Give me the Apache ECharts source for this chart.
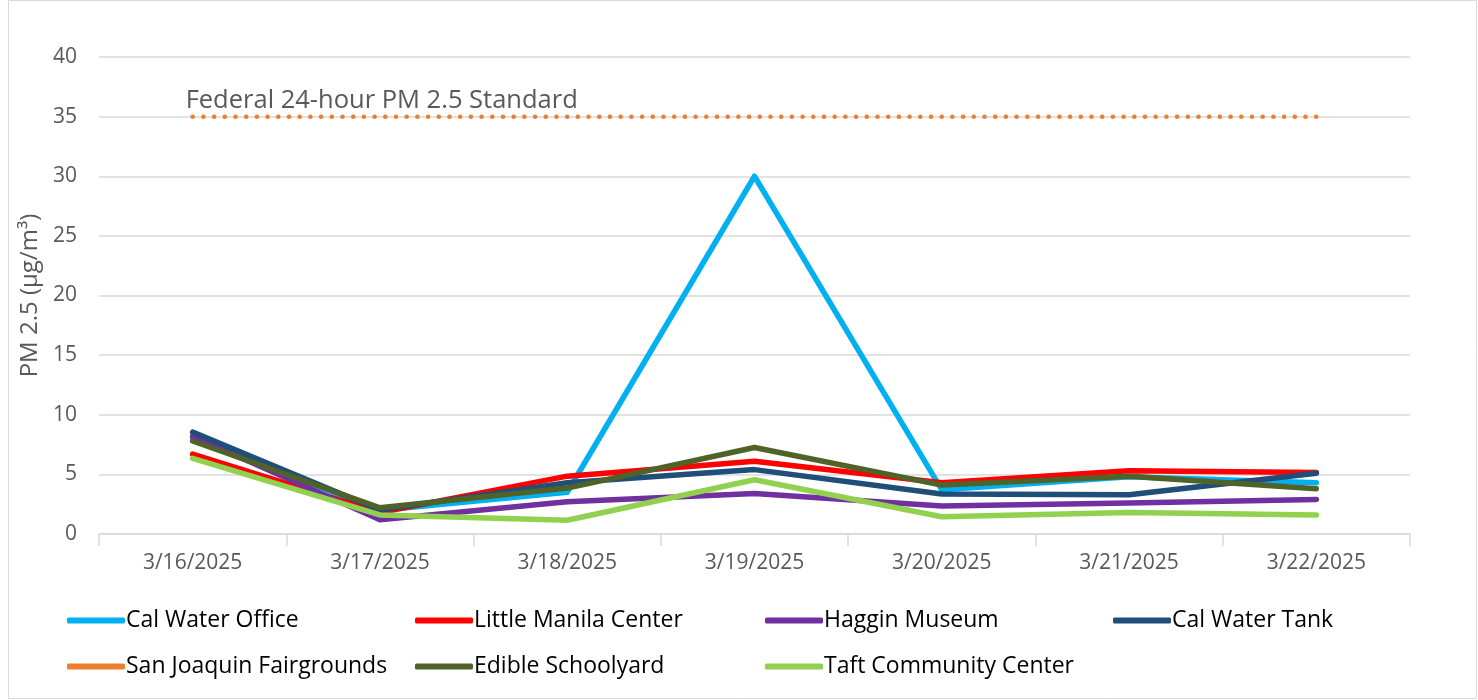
<!DOCTYPE html>
<html><head><meta charset="utf-8">
<script src="https://cdn.jsdelivr.net/npm/echarts@6/dist/echarts.min.js"></script>
<style>html,body{margin:0;padding:0;background:#fff}#c{width:1478px;height:700px}</style>
</head><body><div id="c"></div>
<script>
const categories = ['3/16/2025','3/17/2025','3/18/2025','3/19/2025','3/20/2025','3/21/2025','3/22/2025'];
const calWaterOffice = [8.0, 2.0, 3.5, 30.0, 3.7, 4.8, 4.3];
const littleManila   = [6.7, 1.8, 4.85, 6.1, 4.3, 5.3, 5.15];
const hagginMuseum   = [8.2, 1.2, 2.7, 3.4, 2.35, 2.6, 2.9];
const calWaterTank   = [8.55, 2.0, 4.3, 5.4, 3.35, 3.3, 5.1];
const sanJoaquin     = [35, 35, 35, 35, 35, 35, 35];
const edibleSchool   = [7.8, 2.2, 3.85, 7.25, 4.1, 4.85, 3.8];
const taftCommunity  = [6.35, 1.6, 1.15, 4.55, 1.45, 1.8, 1.6];
const yTicks = {min: 0, max: 40, interval: 5};
const standardLabel = 'Federal 24-hour PM 2.5 Standard';

const names = ['Cal Water Office','Little Manila Center','Haggin Museum','Cal Water Tank','San Joaquin Fairgrounds','Edible Schoolyard','Taft Community Center'];
const colors = ['#00B0F0','#FF0000','#7030A0','#1F4E79','#ED7D31','#4F6228','#92D050'];
const values = [calWaterOffice, littleManila, hagginMuseum, calWaterTank, sanJoaquin, edibleSchool, taftCommunity];

const font = '"Open Sans", "Noto Sans", sans-serif';
const series = names.map((n, i) => {
  const s = {
    name: n, type: 'line', data: values[i], showSymbol: false, symbol: 'none',
    color: colors[i],
    lineStyle: {width: 5.5, color: colors[i], cap: 'round', join: 'round'},
    animation: false, z: 2 + i
  };
  if (n === 'San Joaquin Fairgrounds') {
    s.lineStyle = {width: 4.5, color: colors[i], cap: 'round', type: [0.1, 10.6]};
    s.showSymbol = true; s.symbol = 'circle'; s.symbolSize = 0.01;
    s.label = {show: false};
    s.data = values[i].map((v, k) => k === 0 ? {value: v, label: {show: true, formatter: standardLabel, position: 'top', align: 'left', offset: [-7, 0], distance: 3, color: '#595959', fontSize: 25.5, fontFamily: font}} : v);
  }
  return s;
});

const colLeft = [62, 410, 760, 1108];
const legends = names.map((n, i) => ({
  data: [n], left: colLeft[i % 4], top: i < 4 ? 604 : 650,
  icon: 'roundRect', itemWidth: 58, itemHeight: 6, itemGap: 0,
  textStyle: {fontSize: 23, color: '#000', fontFamily: font, padding: [0,0,0,-4]},
  selectedMode: false
}));

const chart = echarts.init(document.getElementById('c'), null, {renderer: 'canvas'});
chart.setOption({
  backgroundColor: '#fff',
  animation: false,
  graphic: [{type: 'rect', shape: {x: 8.5, y: 0.5, width: 1468, height: 698}, style: {fill: 'none', stroke: '#D9D9D9', lineWidth: 1}, silent: true}],
  grid: {left: 99, right: 68, top: 57, bottom: 166},
  legend: legends,
  xAxis: {
    type: 'category', data: categories, boundaryGap: true,
    axisLine: {lineStyle: {color: '#D9D9D9', width: 1.5}},
    axisTick: {show: true, length: 12, lineStyle: {color: '#D9D9D9', width: 1.5}},
    axisLabel: {color: '#595959', fontSize: 21, fontFamily: font, margin: 19}
  },
  yAxis: {
    type: 'value', min: yTicks.min, max: yTicks.max, interval: yTicks.interval,
    name: 'PM 2.5 (µg/m³)', nameLocation: 'middle', nameGap: 56, nameRotate: 90,
    nameTextStyle: {color: '#595959', fontSize: 24, fontFamily: font},
    axisLine: {show: false}, axisTick: {show: false},
    axisLabel: {color: '#595959', fontSize: 21, fontFamily: font, margin: 22},
    splitLine: {lineStyle: {color: '#D9D9D9', width: 1.5}}
  },
  series: series
});
</script></body></html>
